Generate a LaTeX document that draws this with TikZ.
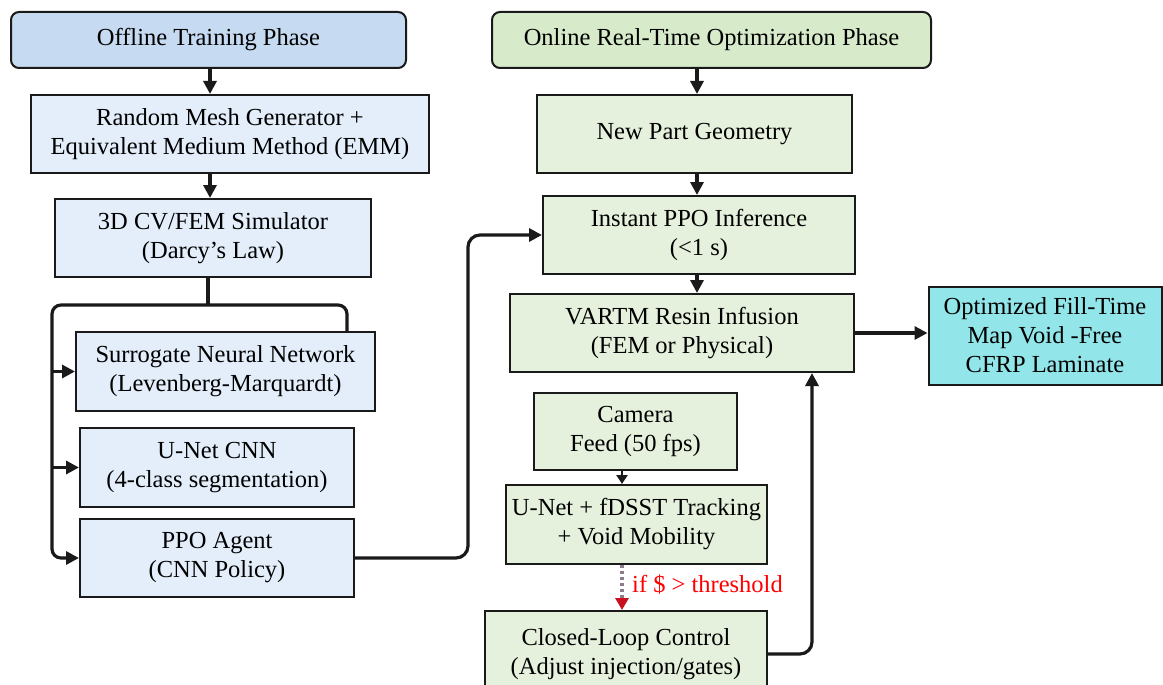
\documentclass[tikz,border=0pt]{standalone}
\usepackage{fontspec}
\setmainfont{Liberation Serif}
\usetikzlibrary{arrows.meta,calc}
\definecolor{hdrblue}{HTML}{C6DAF1}
\definecolor{boxblue}{HTML}{E3EEFA}
\definecolor{hdrgreen}{HTML}{D7EBCB}
\definecolor{boxgreen}{HTML}{E6F1DD}
\definecolor{outcyan}{HTML}{92E6EA}
\definecolor{edge}{HTML}{1A1A1A}
\definecolor{dashgray}{HTML}{8C7C8C}
\definecolor{tipred}{HTML}{C8101E}
\tikzset{
  basebox/.style={draw=edge, line width=2pt, align=center, inner sep=0pt,
    font=\fontsize{24.5}{29}\selectfont, text=black},
  hdr/.style={basebox, rounded corners=8pt},
  bbox/.style={basebox, fill=boxblue},
  gbox/.style={basebox, fill=boxgreen},
  arr/.style={draw=edge, line width=3.2pt, -{Triangle[length=13pt,width=13pt]}},
  plainline/.style={draw=edge, line width=3.2pt},
  smallarr/.style={draw=edge, line width=2.4pt, -{Triangle[length=9pt,width=11pt]}},
  condarr/.style={draw=dashgray, line width=3.5pt, dash pattern=on 3pt off 3pt,
    -{Triangle[length=12pt,width=13pt,color=tipred]}},
  condlbl/.style={text=red, font=\fontsize{24.5}{29}\selectfont, anchor=west, inner sep=0pt},
}
\begin{document}
\begin{tikzpicture}[x=1pt,y=-1pt]
\useasboundingbox (0,0) rectangle (1163,685);
\fill[white] (0,0) rectangle (1163,685);

% helper x positions
\coordinate (xa) at (210,0);
\coordinate (xl) at (52,0);
\coordinate (xr) at (347,0);
\coordinate (jn) at (208,305);
\coordinate (xm) at (468,0);
\coordinate (xb) at (697,0);
\coordinate (xc) at (622,0);
\coordinate (xv) at (812,0);

% Offline column
\node[hdr, fill=hdrblue, minimum width=395pt, minimum height=56pt] (off) at (208.5,40) {Offline Training Phase};
\node[bbox, minimum width=398pt, minimum height=78pt] (rmg) at (230,134) {Random Mesh Generator +\\Equivalent Medium Method (EMM)};
\node[bbox, minimum width=316pt, minimum height=78pt] (sim) at (213,238) {3D CV/FEM Simulator\\(Darcy{\char"0027}s Law)};
\node[bbox, minimum width=299pt, minimum height=79pt] (sur) at (225.5,371.5) {Surrogate Neural Network\\(Levenberg-Marquardt)};
\node[bbox, minimum width=274pt, minimum height=79pt] (unet) at (217,467.5) {U-Net CNN\\(4-class segmentation)};
\node[bbox, minimum width=274pt, minimum height=78pt] (ppo) at (217,558) {PPO Agent\\(CNN Policy)};

% Online column
\node[hdr, fill=hdrgreen, minimum width=439pt, minimum height=56pt] (on) at (711.5,40) {Online Real-Time Optimization Phase};
\node[gbox, minimum width=315pt, minimum height=78pt] (npg) at (694.5,134) {New Part Geometry};
\node[gbox, minimum width=312pt, minimum height=78pt] (ipi) at (699,235) {Instant PPO Inference\\(<1 s)};
\node[gbox, minimum width=344pt, minimum height=78pt] (vartm) at (682,333) {VARTM Resin Infusion\\(FEM or Physical)};
\node[basebox, fill=outcyan, minimum width=233pt, minimum height=98pt] (opt) at (1045,335.5) {Optimized Fill-Time\\Map Void -Free\\CFRP Laminate};
\node[gbox, minimum width=203pt, minimum height=77pt] (cam) at (635.5,431.5) {Camera\\Feed (50 fps)};
\node[gbox, minimum width=261pt, minimum height=79pt] (trk) at (636.5,524.5) {U-Net + fDSST Tracking\\+ Void Mobility};
\node[gbox, minimum width=282pt, minimum height=86pt] (clc) at (626,654) {Closed-Loop Control\\(Adjust injection/gates)};

% Offline connectors
\draw[arr] (off.south -| xa) -- (rmg.north -| xa);
\draw[arr] (rmg.south -| xa) -- (sim.north -| xa);
\draw[plainline] (sim.south -| jn) -- (jn);
\draw[arr, rounded corners=9pt] (sur.north -| xr) |- (xl |- jn) |- (ppo.west);
\draw[arr] (xl |- sur.west) -- (sur.west);
\draw[arr] (xl |- unet.west) -- (unet.west);
\draw[arr, rounded corners=12pt] (ppo.east) -| (xm |- ipi.west) -- (ipi.west);

% Online connectors
\draw[arr] (on.south -| xb) -- (npg.north -| xb);
\draw[arr] (npg.south -| xb) -- (ipi.north -| xb);
\draw[arr] (ipi.south -| xb) -- (vartm.north -| xb);
\draw[arr] (vartm.east) -- (opt.west |- vartm.east);
\draw[smallarr] (cam.south -| xc) -- (trk.north -| xc);
\draw[condarr] (trk.south -| xc) -- (clc.north -| xc);
\node[condlbl] (cond) at (632,585) {if \$ > threshold};
\draw[arr, rounded corners=12pt] (clc.east) -| (vartm.south -| xv);
\end{tikzpicture}
\end{document}
